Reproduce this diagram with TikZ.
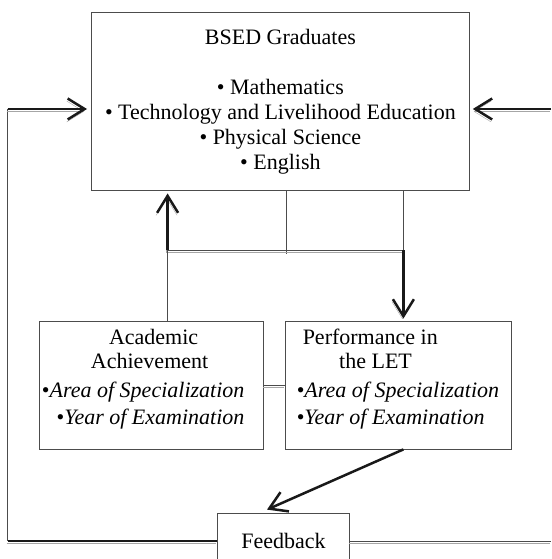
\documentclass[tikz,border=0pt]{standalone}
\usepackage{fontspec}
\setmainfont{Liberation Serif}
\usetikzlibrary{arrows.meta,calc,positioning}
\newcommand\boxfont{\fontsize{22}{25}\selectfont}

\begin{document}
\begin{tikzpicture}[x=1pt,y=-1pt,
    box/.style={draw=black!70, line width=0.8pt, inner sep=0pt, font=\boxfont},
    thinline/.style={draw=black!70, line width=0.8pt},
    heavy/.style={draw=black!90, line width=2.5pt},
    barb/.style={-{Straight Barb[length=17pt,width=21pt]}},
    shadowed/.style={preaction={draw=black!35, transform canvas={shift={(-1pt,-2.5pt)}}}},
    txt/.style={anchor=base, inner sep=0pt, font=\boxfont}]
    \useasboundingbox (0,0) rectangle (551,559);

    % boxes
    \node[box, minimum width=378, minimum height=177.5, align=center] (grads) at (280.4,101.3)
        {BSED Graduates\\[25pt]• Mathematics\\• Technology and Livelihood Education\\• Physical Science\\• English};
    \node[box, minimum width=224, minimum height=128] (acad) at (151.4,385) {};
    \node[box, minimum width=226.3, minimum height=128] (perf) at (398.4,385) {};
    \node[box, minimum width=132, minimum height=56] (feedback) at (283.5,541) {Feedback};

    % texts of the two lower boxes
    \node[txt] (acadtitle) at ($(acad.north west)+(114.6,24)$) {Academic};
    \node[txt] (acadsub) at ($(acad.north west)+(110.6,48)$) {Achievement};
    \node[txt, anchor=base east] (acadarea) at ($(acad.north west)+(205.6,77)$) {•\textit{Area of Specialization}};
    \node[txt, anchor=base east] (acadyear) at ($(acad.north west)+(205.6,104)$) {•\textit{Year of Examination}};
    \node[txt, anchor=base west] (perftitle) at ($(perf.north west)+(17.7,24)$) {Performance in};
    \node[txt] (perfsub) at ($(perf.north west)+(90.7,48)$) {the LET};
    \node[txt, anchor=base west] (perfarea) at ($(perf.north west)+(11.7,77)$) {•\textit{Area of Specialization}};
    \node[txt, anchor=base west] (perfyear) at ($(perf.north west)+(11.7,104)$) {•\textit{Year of Examination}};

    \coordinate (looptl) at (7.5,109);
    \coordinate (loopbl) at (7.5,541);
    \coordinate (inright) at (551,109);
    \coordinate (outright) at (551,541);
    \coordinate (splitl) at (167.6,250);
    \coordinate (splitm) at (286.7,250);
    \coordinate (splitr) at (403.4,250);

    % feedback loop
    \draw[thinline] (looptl) -- (loopbl);
    \draw[heavy, shadowed] (loopbl) -- (feedback.west);
    \draw[heavy, shadowed, barb, shorten >=4pt] (looptl) -- (looptl -| grads.west);
    \draw[heavy, shadowed, barb, shorten >=3pt] (inright) -- (inright -| grads.east);
    \draw[thinline, shadowed] (feedback.east) -- (outright);

    % links under the graduates
    \draw[thinline] (grads.south -| splitm) -- ($(splitm)+(0,4)$);
    \draw[thinline] (grads.south -| splitr) -- (splitr);
    \draw[thinline, shadowed] (splitl) -- (splitr);
    \draw[thinline] (splitl) -- (splitl |- acad.north);
    \draw[heavy, shadowed, barb, shorten >=3pt] (splitl) -- (splitl |- grads.south);
    \draw[heavy, shadowed, barb, shorten >=2pt] (splitr) -- (splitr |- perf.north);
    \draw[thinline, shadowed] (acad.east) -- (perf.west);
    \draw[heavy, barb] (splitr |- perf.south) -- ([xshift=-16.5pt,yshift=3pt]feedback.north);
\end{tikzpicture}
\end{document}
